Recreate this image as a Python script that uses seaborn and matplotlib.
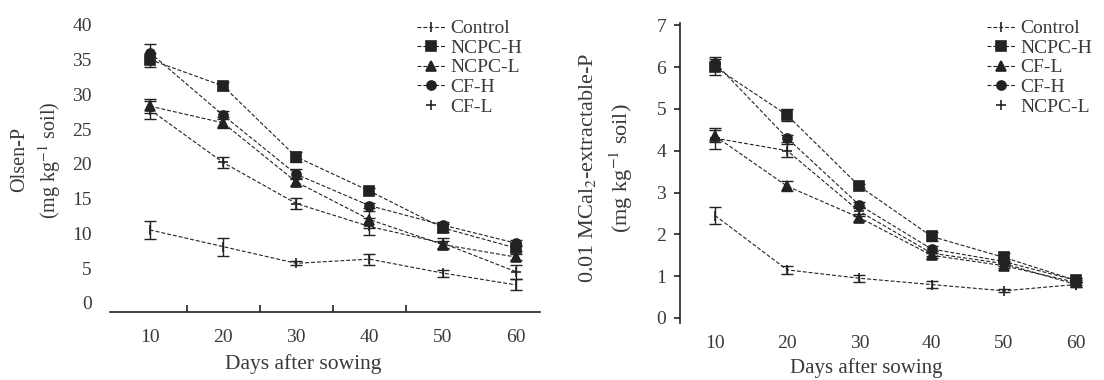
import numpy as np
import pandas as pd
import matplotlib
matplotlib.use("Agg")
import matplotlib.pyplot as plt
import seaborn as sns

days = [10, 20, 30, 40, 50, 60]

# Left panel: Olsen-P (mg kg-1 soil)
left_names = ["Control", "NCPC-H", "NCPC-L", "CF-H", "CF-L"]
left_vals = {
    "Control": [10.5, 8.1, 5.7, 6.3, 4.3, 2.6],
    "NCPC-H": [35.0, 31.2, 21.0, 16.1, 10.8, 7.9],
    "NCPC-L": [28.3, 25.9, 17.4, 12.0, 8.4, 6.6],
    "CF-H":   [36.0, 27.0, 18.5, 14.0, 11.2, 8.6],
    "CF-L":   [27.8, 20.2, 14.3, 11.0, 8.6, 4.5],
}
left_err = {
    "Control": [1.3, 1.3, 0.3, 0.8, 0.5, 0.8],
    "NCPC-H": [1.0, 0.6, 0.7, 0.4, 0.6, 0.5],
    "NCPC-L": [1.0, 0.8, 0.6, 1.2, 0.5, 0.4],
    "CF-H":   [1.2, 0.6, 0.7, 0.4, 0.5, 0.4],
    "CF-L":   [1.3, 0.8, 0.8, 1.2, 0.8, 1.0],
}

# Right panel: 0.01 M CaCl2-extractable-P (mg kg-1 soil)
right_names = ["Control", "NCPC-H", "CF-L", "CF-H", "NCPC-L"]
right_vals = {
    "Control": [2.45, 1.15, 0.95, 0.80, 0.65, 0.80],
    "NCPC-H": [6.00, 4.85, 3.15, 1.95, 1.45, 0.90],
    "CF-L":   [4.35, 3.15, 2.40, 1.50, 1.25, 0.85],
    "CF-H":   [6.10, 4.30, 2.70, 1.65, 1.35, 0.90],
    "NCPC-L": [4.30, 4.00, 2.55, 1.55, 1.30, 0.80],
}
right_err = {
    "Control": [0.20, 0.10, 0.08, 0.08, 0.04, 0.05],
    "NCPC-H": [0.20, 0.15, 0.05, 0.10, 0.10, 0.05],
    "CF-L":   [0.15, 0.12, 0.08, 0.06, 0.06, 0.05],
    "CF-H":   [0.15, 0.08, 0.08, 0.06, 0.06, 0.05],
    "NCPC-L": [0.25, 0.15, 0.10, 0.06, 0.06, 0.05],
}

marker_of = {"Control": "|", "NCPC-H": "s", "NCPC-L": "^", "CF-H": "o", "CF-L": "+"}
right_marker_of = {"Control": "|", "NCPC-H": "s", "CF-L": "^", "CF-H": "o", "NCPC-L": "+"}

sns.set_theme(style="white")
plt.rcParams["font.family"] = ["Liberation Serif", "DejaVu Serif"]
plt.rcParams["mathtext.fontset"] = "stix"
txt = "#3a3a3a"
ink = "#222222"

fig = plt.figure(figsize=(11.04, 3.8), dpi=100)
axL = fig.add_axes([0.0996, 0.179, 0.3895, 0.774])
axR = fig.add_axes([0.616, 0.150, 0.371, 0.789])


def draw(ax, names, vals, errs, markers):
    for n in names:
        df = pd.DataFrame({"day": days, "value": vals[n]})
        sns.lineplot(data=df, x="day", y="value", color=ink, marker=markers[n],
                     linestyle=(0, (3.5, 1.8)), linewidth=0.8, markersize=6.5,
                     markeredgewidth=1.2, markeredgecolor=ink, ax=ax,
                     label=n, zorder=3)
        ax.errorbar(days, vals[n], yerr=errs[n], fmt="none", ecolor=ink,
                    elinewidth=1.0, capsize=4, capthick=1.0, zorder=2)


draw(axL, left_names, left_vals, left_err, marker_of)
draw(axR, right_names, right_vals, right_err, right_marker_of)

# Left axes styling
axL.set_xlim(4.54, 63.3)
axL.set_ylim(-1.3, 41)
axL.set_xticks(days)
axL.set_xticks([15, 25, 35, 45], minor=True)
axL.set_yticks(range(0, 41, 5))
axL.set_yticks([10, 30, 40], minor=True)
for s in ["top", "right", "left"]:
    axL.spines[s].set_visible(False)
axL.spines["bottom"].set_color(ink)
axL.spines["bottom"].set_linewidth(1.2)
axL.tick_params(axis="x", which="major", length=0, pad=12, labelsize=14, labelcolor=txt)
axL.tick_params(axis="x", which="minor", direction="in", length=5, width=1.2,
                color=ink, bottom=True)
axL.tick_params(axis="y", which="major", length=0, pad=13, labelsize=14, labelcolor=txt)
axL.tick_params(axis="y", which="minor", direction="in", length=5, width=1.2,
                color=ink, left=True)
axL.set_xlabel("Days after sowing", fontsize=15.5, color=txt)
axL.xaxis.set_label_coords(0.449, -0.142)
axL.set_ylabel("Olsen-P\n(mg kg$^{-1}$ soil)", fontsize=14.5, color=txt, linespacing=1.35)
axL.yaxis.set_label_coords(-0.109, 0.517)

# Right axes styling
axR.set_xlim(5.15, 61.9)
axR.set_ylim(-0.12, 7.05)
axR.set_xticks(days)
axR.set_yticks(range(0, 8))
for s in ["top", "right", "bottom"]:
    axR.spines[s].set_visible(False)
axR.spines["left"].set_color(ink)
axR.spines["left"].set_linewidth(1.2)
axR.tick_params(axis="x", which="major", length=0, pad=9, labelsize=14, labelcolor=txt)
axR.tick_params(axis="y", which="major", direction="out", length=4, width=1.2,
                color=ink, left=True, pad=6, labelsize=14, labelcolor=txt)
axR.set_xlabel("Days after sowing", fontsize=15, color=txt)
axR.xaxis.set_label_coords(0.454, -0.118)
axR.set_ylabel("0.01 MCal$_2$-extractable-P\n(mg kg$^{-1}$ soil)", fontsize=16,
               color=txt, linespacing=1.45)
axR.yaxis.set_label_coords(-0.11, 0.517)

for ax, x0 in [(axL, 0.3775), (axR, 0.894)]:
    h, l = ax.get_legend_handles_labels()
    leg = ax.legend(h, l, loc="upper left", bbox_to_anchor=(x0, 0.948),
                    bbox_transform=fig.transFigure, frameon=False, fontsize=14,
                    handlelength=1.45, handletextpad=0.28, labelspacing=0.1,
                    borderaxespad=0, borderpad=0, labelcolor=txt)
    leg.legend_handles[-1].set_linestyle("none")

fig.savefig("out.png", dpi=100, facecolor="white")
